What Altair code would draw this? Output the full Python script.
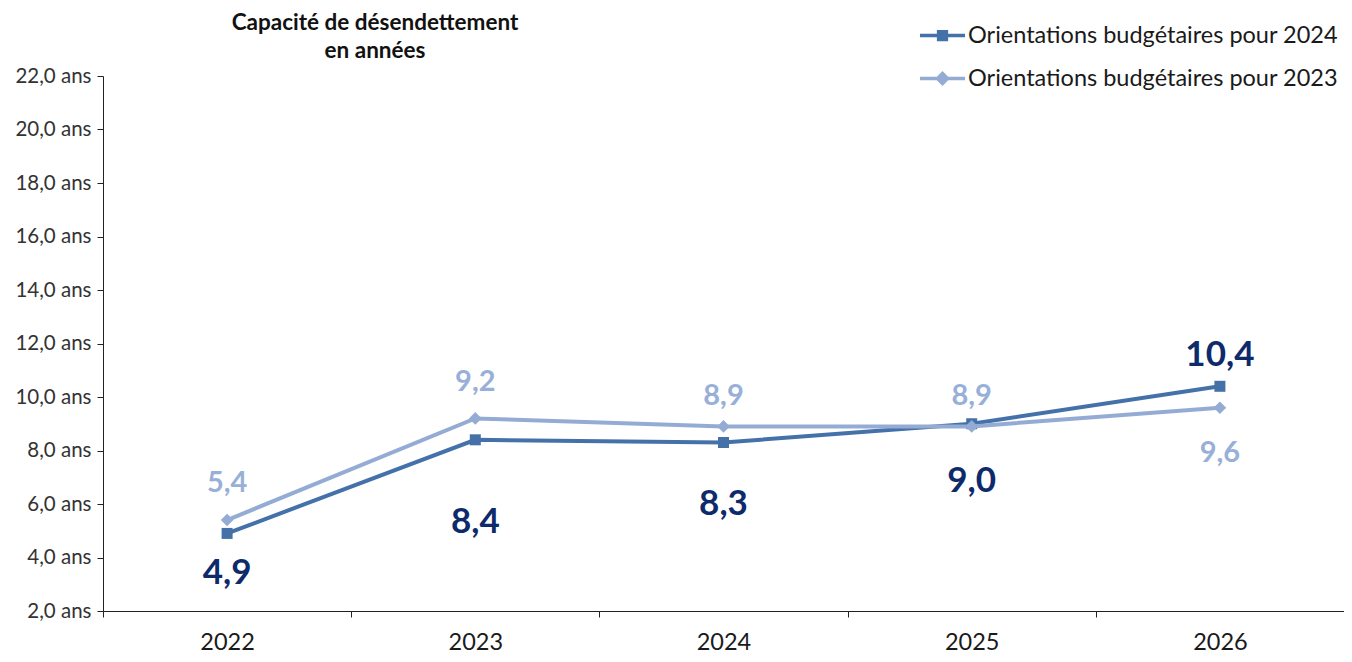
import altair as alt
import pandas as pd

years = ["2022", "2023", "2024", "2025", "2026"]
series_2024 = "Orientations budgétaires pour 2024"
series_2023 = "Orientations budgétaires pour 2023"
values_2024 = [4.9, 8.4, 8.3, 9.0, 10.4]
values_2023 = [5.4, 9.2, 8.9, 8.9, 9.6]
# label vertical offsets (pixels, positive = below) relative to the points
label_off_2024 = [40, 82, 62, 57, -31]
label_off_2023 = [-37, -36, -30, -30, 45]
y_ticks = [2, 4, 6, 8, 10, 12, 14, 16, 18, 20, 22]
title_lines = ["Capacité de désendettement", "en années"]

DARK = "#4571A9"
LIGHT = "#94ACD4"
DARK_TXT = "#0D2A6A"
LIGHT_TXT = "#98B0D8"
FONT = "Lato"
PLOT_W, PLOT_H = 1241, 535
Y_MIN, Y_MAX = 2, 22

rows = []
for y, v, o in zip(years, values_2024, label_off_2024):
    rows.append({"year": y, "series": series_2024, "value": v, "off": o})
for y, v, o in zip(years, values_2023, label_off_2023):
    rows.append({"year": y, "series": series_2023, "value": v, "off": o})
df = pd.DataFrame(rows)

x_scale = alt.Scale(type="band", paddingInner=0, paddingOuter=0)
y_scale = alt.Scale(domain=[Y_MIN, Y_MAX], nice=False, zero=False)
x_enc = alt.X("year:O", sort=years, scale=x_scale,
              axis=alt.Axis(title=None, labelAngle=0, tickBand="extent"))
y_enc = alt.Y("value:Q", scale=y_scale,
              axis=alt.Axis(title=None, values=y_ticks,
                            labelExpr="replace(format(datum.value, '.1f'), '.', ',') + ' ans'"))

base = alt.Chart(df).transform_calculate(
    label="replace(format(datum.value, '.1f'), '.', ',')",
    label_y=f"datum.value - datum.off * {(Y_MAX - Y_MIN) / PLOT_H}",
)


def layers(name, color, shape, size, txt_color, txt_size, weight):
    sel = base.transform_filter(alt.datum.series == name)
    line = sel.mark_line(strokeWidth=4, color=color).encode(x=x_enc, y=y_enc)
    pts = sel.mark_point(shape=shape, size=size, filled=True, opacity=1,
                         color=color).encode(x=x_enc, y=y_enc)
    txt = sel.mark_text(fontSize=txt_size, fontWeight=weight, color=txt_color,
                        font=FONT, baseline="middle", align="center").encode(
        x=x_enc, y=alt.Y("label_y:Q", scale=y_scale), text="label:N")
    return [line, pts, txt]


sq_path = "M-1,-0.08H1V0.08H-1Z M-0.25,-0.25H0.25V0.25H-0.25Z"
di_path = "M-1,-0.08H1V0.08H-1Z M0,-0.33L0.33,0L0,0.33L-0.33,0Z"

legend_def = alt.Legend(title=None, orient="none", legendX=817, legendY=-63,
                        labelFontSize=23.5, labelFont=FONT, labelColor="#1a1a1a",
                        labelLimit=600,
                        symbolSize=2025, symbolOpacity=1, symbolStrokeWidth=0,
                        labelOffset=3, rowPadding=9, padding=0)
legend_layer = base.mark_point(filled=True, opacity=0).encode(
    x=x_enc, y=y_enc,
    color=alt.Color("series:N", scale=alt.Scale(domain=[series_2024, series_2023],
                                                range=[DARK, LIGHT]),
                    legend=legend_def),
    shape=alt.Shape("series:N", scale=alt.Scale(domain=[series_2024, series_2023],
                                                range=[sq_path, di_path]),
                    legend=legend_def),
)

title_layer = alt.Chart(pd.DataFrame({"t": ["\n".join(title_lines)]})).mark_text(
    font=FONT, fontSize=22.5, fontWeight="bold", color="#111111",
    align="center", baseline="top", lineBreak="\n", lineHeight=28,
).encode(x=alt.value(272), y=alt.value(-64), text="t:N")

all_layers = (layers(series_2024, DARK, "square", 121, DARK_TXT, 35, "bold")
              + layers(series_2023, LIGHT, "diamond", 160, LIGHT_TXT, 29, "bold")
              + [legend_layer, title_layer])

chart = alt.layer(*all_layers).properties(
    width=PLOT_W, height=PLOT_H,
    autosize=alt.AutoSizeParams(type="none"),
    padding={"left": 95, "top": 68, "right": 0, "bottom": 43},
    background="white",
).configure_view(stroke=None).configure_axis(
    grid=False, labelFont=FONT, domainColor="#222222", tickColor="#222222",
    tickSize=6, domainWidth=1, tickWidth=1,
).configure_axisX(
    labelFontSize=23.5, labelColor="#1a1a1a", labelPadding=13,
).configure_axisY(
    labelFontSize=20.5, labelColor="#333333", labelPadding=6,
)

chart.save("out.html", embed_options={"renderer": "svg", "actions": False})
